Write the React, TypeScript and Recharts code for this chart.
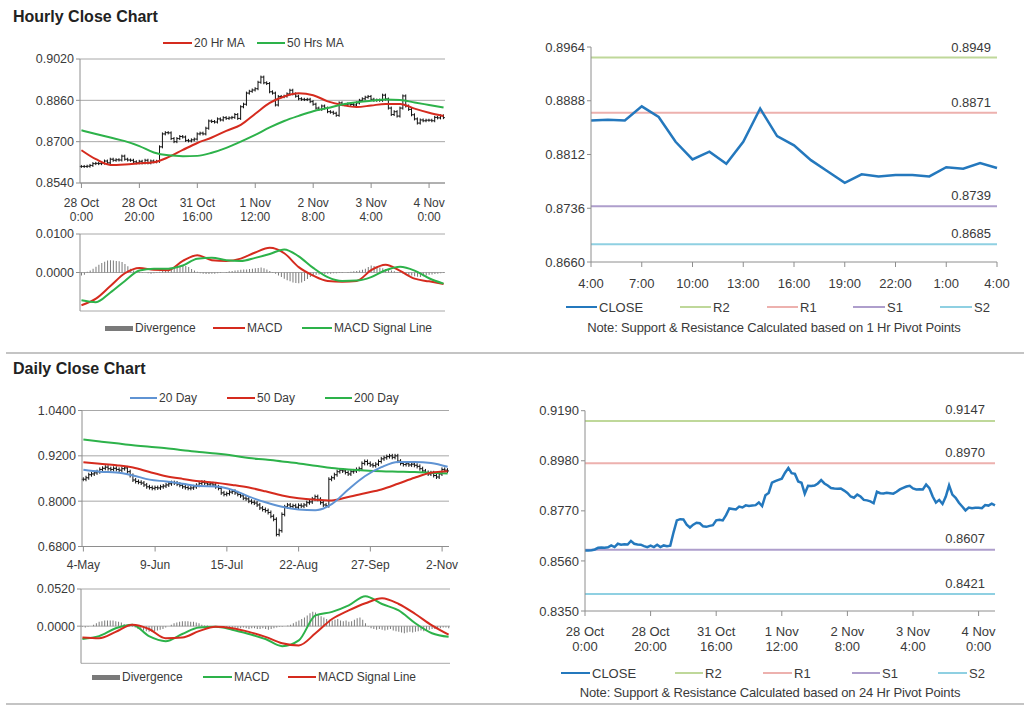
import React from 'react';
import { ComposedChart, LineChart, Line, Bar, XAxis, YAxis, CartesianGrid } from 'recharts';

const FONT = '"Liberation Sans", Arial, Helvetica, sans-serif';
const INK = '#3A3A3A';
const GRID = '#A8A8A8';
const AXIS = '#8E8E8E';
const RED = '#D52B1E';
const GREEN = '#2DB24A';
const BLUE20 = '#5F93D3';
const CLOSE_BLUE = '#2478BD';
const DIV_GRAY = '#7A7A7A';
const PIVOT_COLORS = ['#BFD89A', '#EDB1AE', '#AE9ECC', '#8FD0E2'];

// ---------- hourly data (one point per hour, 126 hours) ----------
const hourlyTickLabels = [
  ['28 Oct', '0:00'], ['28 Oct', '20:00'], ['31 Oct', '16:00'], ['1 Nov', '12:00'],
  ['2 Nov', '8:00'], ['3 Nov', '4:00'], ['4 Nov', '0:00'],
];

const hourlyClose = [
  0.8604, 0.8604, 0.8605, 0.8608, 0.8615, 0.8616, 0.8615, 0.8617, 0.8625, 0.8618,
  0.8632, 0.8628, 0.8630, 0.8629, 0.8644, 0.8632, 0.8629, 0.8628, 0.8622, 0.8618,
  0.8624, 0.8618, 0.8628, 0.8618, 0.8625, 0.8622, 0.8624, 0.8680, 0.8730, 0.8735,
  0.8734, 0.8712, 0.8700, 0.8712, 0.8720, 0.8718, 0.8705, 0.8703, 0.8707, 0.8710,
  0.8730, 0.8733, 0.8730, 0.8752, 0.8780, 0.8778, 0.8776, 0.8788, 0.8784, 0.8793,
  0.8790, 0.8792, 0.8794, 0.8805, 0.8790, 0.8835, 0.8845, 0.8888, 0.8895, 0.8900,
  0.8905, 0.8930, 0.8950, 0.8928, 0.8925, 0.8893, 0.8888, 0.8842, 0.8875, 0.8874,
  0.8876, 0.8885, 0.8899, 0.8885, 0.8876, 0.8866, 0.8864, 0.8863, 0.8864, 0.8855,
  0.8845, 0.8830, 0.8825, 0.8838, 0.8830, 0.8816, 0.8814, 0.8810, 0.8802, 0.8850,
  0.8844, 0.8843, 0.8846, 0.8844, 0.8842, 0.8850, 0.8860, 0.8866, 0.8872, 0.8875,
  0.8864,
  0.8860, 0.8861, 0.8860, 0.8880, 0.8865, 0.8830, 0.8805, 0.8816, 0.8799, 0.8830,
  0.8877, 0.8838, 0.8825, 0.8804, 0.8788, 0.8772, 0.8784, 0.8781, 0.8783, 0.8783,
  0.8781, 0.8794, 0.8792, 0.8800, 0.8793,
];

// moving averages and MACD read every 5 hours
const HOURLY_STEP = 5;
const hourlyMa20 = [
  0.8667, 0.8632, 0.8610, 0.8612, 0.8616, 0.8620, 0.8640, 0.8668, 0.8695, 0.8716,
  0.8742, 0.8765, 0.8808, 0.8850, 0.8875, 0.8887, 0.8880, 0.8856, 0.8842, 0.8834,
  0.8840, 0.8846, 0.8846, 0.8828, 0.8812, 0.8799,
];
const hourlyMa50 = [
  0.8744, 0.8730, 0.8716, 0.8702, 0.8683, 0.8658, 0.8647, 0.8644, 0.8645, 0.8657,
  0.8676, 0.8700, 0.8726, 0.8755, 0.8780, 0.8800, 0.8818, 0.8830, 0.8844, 0.8853,
  0.8858, 0.8863, 0.8861, 0.8852, 0.8842, 0.8832,
];
const hourlyMacd = [
  -0.0085, -0.0068, -0.0035, -0.0002, 0.0012, 0.0007, 0.0006, 0.0030, 0.0045, 0.0032,
  0.0030, 0.0036, 0.0052, 0.0064, 0.0050, 0.0014, -0.0008, -0.0022, -0.0024, -0.0022,
  0.0006, 0.0020, 0.0004, -0.0016, -0.0023, -0.0030,
];
const hourlySignal = [
  -0.0072, -0.0077, -0.0052, -0.0022, 0.0005, 0.0010, 0.0010, 0.0018, 0.0036, 0.0038,
  0.0032, 0.0030, 0.0038, 0.0048, 0.0060, 0.0042, 0.0012, -0.0012, -0.0022, -0.0021,
  -0.0012, 0.0006, 0.0015, 0.0005, -0.0015, -0.0029,
];
const hourlyDivergence = [
  -0.0008, -0.0006, 0.0002, 0.0005, 0.0010,
  0.0015, 0.0020, 0.0025, 0.0028, 0.0031, 0.0032, 0.0031, 0.0030, 0.0029, 0.0027,
  0.0022, 0.0016, 0.0010, 0.0005, 0.0003, 0.0002,
  0.0001, 0.0000, -0.0002, -0.0003, -0.0002, 0.0001, 0.0002, 0.0004,
  0.0005, 0.0007, 0.0010, 0.0012, 0.0014, 0.0016, 0.0018, 0.0017, 0.0014,
  0.0009, 0.0005, 0.0002,
  -0.0002, -0.0003, -0.0004, -0.0004, -0.0003, -0.0003, -0.0002, -0.0001, 0.0000, 0.0001,
  0.0003, 0.0004, 0.0005, 0.0006, 0.0007, 0.0008, 0.0008, 0.0009, 0.0010, 0.0011,
  0.0012, 0.0013, 0.0011, 0.0008,
  0.0004, 0.0001, -0.0003, -0.0008,
  -0.0012, -0.0016, -0.0020, -0.0023, -0.0026, -0.0027, -0.0028, -0.0026, -0.0022, -0.0017,
  -0.0012, -0.0008,
  -0.0006, -0.0005, -0.0004, -0.0004, -0.0003, -0.0003, -0.0002, -0.0002, -0.0001, -0.0001,
  0.0000, 0.0001, 0.0002, 0.0003, 0.0004, 0.0005, 0.0007,
  0.0010, 0.0014, 0.0018, 0.0017, 0.0015, 0.0013, 0.0011, 0.0009, 0.0007,
  0.0005, 0.0003, 0.0001, -0.0001, -0.0003, -0.0005,
  -0.0007, -0.0008, -0.0010, -0.0011, -0.0012, -0.0010, -0.0008, -0.0006, -0.0005,
  -0.0004, -0.0003, -0.0002, -0.0001,
];

// ---------- pivot levels ----------
const pivotNames = ['R2', 'R1', 'S1', 'S2'];
const hourlyPivotLevels = [0.8949, 0.8871, 0.8739, 0.8685];
const dailyPivotLevels = [0.9147, 0.8970, 0.8607, 0.8421];
const pivotHours = [
  '4:00', '5:00', '6:00', '7:00', '8:00', '9:00', '10:00', '11:00', '12:00', '13:00',
  '14:00', '15:00', '16:00', '17:00', '18:00', '19:00', '20:00', '21:00', '22:00', '23:00',
  '0:00', '1:00', '2:00', '3:00', '4:00',
];
const pivotClose = hourlyClose.slice(hourlyClose.length - pivotHours.length);

// ---------- daily data (133 sessions) ----------
const dailyTickLabels = ['4-May', '9-Jun', '15-Jul', '22-Aug', '27-Sep', '2-Nov'];
const dailyClose = [
  0.858, 0.862, 0.870, 0.872, 0.875, 0.878, 0.884, 0.887, 0.890, 0.886,
  0.884, 0.887, 0.884, 0.882, 0.886, 0.888, 0.878, 0.868, 0.856, 0.852,
  0.850, 0.848, 0.843, 0.838, 0.836, 0.834, 0.836, 0.835, 0.838, 0.840,
  0.843, 0.846, 0.849, 0.848, 0.845, 0.842, 0.838, 0.836, 0.834, 0.835,
  0.838, 0.842, 0.847, 0.850, 0.848, 0.845, 0.846, 0.843, 0.838, 0.834,
  0.822, 0.818, 0.820, 0.824, 0.826, 0.822, 0.818, 0.814, 0.808, 0.806,
  0.800, 0.797, 0.795, 0.790, 0.782, 0.778, 0.775, 0.770, 0.760, 0.752,
  0.712, 0.722, 0.765, 0.785, 0.790, 0.786, 0.788, 0.784, 0.789, 0.787,
  0.790, 0.796, 0.798, 0.806, 0.812, 0.805, 0.796, 0.790, 0.788, 0.858,
  0.862, 0.870, 0.878, 0.882, 0.880, 0.876, 0.872, 0.878, 0.880, 0.884,
  0.886, 0.900, 0.905, 0.900, 0.896, 0.894, 0.898, 0.905, 0.912, 0.915,
  0.918, 0.920, 0.916, 0.920, 0.906, 0.900, 0.897, 0.899, 0.896, 0.898,
  0.895, 0.892, 0.886, 0.880, 0.876, 0.872, 0.875, 0.868, 0.864, 0.872,
  0.884, 0.882, 0.880,
];

// averages and MACD read every 6 sessions
const DAILY_STEP = 6;
const dailyMa20 = [
  0.883, 0.878, 0.876, 0.868, 0.857, 0.852, 0.846, 0.840, 0.839, 0.830,
  0.812, 0.797, 0.785, 0.778, 0.776, 0.792, 0.831, 0.866, 0.890, 0.904,
  0.904, 0.901, 0.891,
];
const dailyMa50 = [
  0.903, 0.899, 0.895, 0.889, 0.877, 0.866, 0.859, 0.853, 0.849, 0.843,
  0.836, 0.826, 0.815, 0.808, 0.804, 0.802, 0.811, 0.821, 0.831, 0.846,
  0.862, 0.875, 0.879,
];
const dailyMa200 = [
  0.963, 0.958, 0.953, 0.948, 0.944, 0.940, 0.935, 0.930, 0.926, 0.921,
  0.914, 0.910, 0.905, 0.900, 0.894, 0.888, 0.884, 0.881, 0.879, 0.878,
  0.877, 0.875, 0.873,
];
const dailyMacd = [
  -0.018, -0.014, -0.003, 0.002, -0.014, -0.021, -0.011, -0.002, -0.001, -0.005,
  -0.011, -0.018, -0.028, -0.020, 0.015, 0.020, 0.029, 0.042, 0.031, 0.022,
  0.004, -0.010, -0.015,
];
const dailySignal = [
  -0.016, -0.017, -0.008, 0.002, -0.004, -0.017, -0.016, -0.007, -0.001, -0.003,
  -0.008, -0.015, -0.024, -0.027, -0.010, 0.010, 0.022, 0.032, 0.039, 0.031,
  0.017, 0.001, -0.012,
];
const dailyDivergence = [
  -0.001, -0.002, -0.001, 0.000,
  0.002, 0.004, 0.006, 0.007, 0.008, 0.008, 0.008, 0.008, 0.007, 0.006, 0.005, 0.003, 0.002,
  0.001, -0.001, -0.002,
  -0.004, -0.005, -0.006, -0.007, -0.008, -0.008, -0.007, -0.006, -0.005, -0.004, -0.002,
  0.000, 0.002,
  0.004, 0.005, 0.006, 0.007, 0.007, 0.007, 0.006, 0.006, 0.005, 0.004, 0.002,
  0.001, 0.001, 0.000, 0.000, -0.001, 0.000, -0.001, -0.001, -0.002,
  -0.002, -0.003, -0.002, -0.003, -0.003, -0.002, -0.003, -0.004, -0.003, -0.003, -0.004,
  -0.004, -0.003, -0.004, -0.005, -0.004, -0.003, -0.002, -0.001, -0.001, 0.000, 0.001,
  0.002, 0.004, 0.006, 0.008, 0.010, 0.012, 0.015, 0.018, 0.020, 0.019,
  0.016, 0.014, 0.012,
  0.010, 0.009, 0.008, 0.009, 0.010, 0.008, 0.007, 0.008, 0.006, 0.007, 0.009, 0.011, 0.012,
  0.009, 0.004,
  -0.001, -0.003, -0.004, -0.005, -0.004, -0.005, -0.006, -0.005, -0.004, -0.006, -0.007,
  -0.008, -0.009, -0.010, -0.009, -0.008, -0.009, -0.008, -0.007, -0.006, -0.007, -0.006,
  -0.005, -0.004, -0.004, -0.003,
  -0.003, -0.002, -0.002, -0.003,
];

// ---------- tables ----------
const sparse = (arr: number[], i: number, step: number) => (i % step === 0 ? arr[i / step] : undefined);

const hourlyRows = hourlyClose.map((close, i) => {
  const open = i > 0 ? hourlyClose[i - 1] : close;
  return {
    i,
    open,
    close,
    range: [Math.min(open, close), Math.max(open, close)],
    ma20: sparse(hourlyMa20, i, HOURLY_STEP),
    ma50: sparse(hourlyMa50, i, HOURLY_STEP),
    macd: sparse(hourlyMacd, i, HOURLY_STEP),
    signal: sparse(hourlySignal, i, HOURLY_STEP),
    div: hourlyDivergence[i],
    R2: dailyPivotLevels[0],
    R1: dailyPivotLevels[1],
    S1: dailyPivotLevels[2],
    S2: dailyPivotLevels[3],
  };
});

const hourPivotRows = pivotClose.map((close, k) => ({
  k,
  close,
  R2: hourlyPivotLevels[0],
  R1: hourlyPivotLevels[1],
  S1: hourlyPivotLevels[2],
  S2: hourlyPivotLevels[3],
}));

const dailyRows = dailyClose.map((close, i) => {
  const open = i > 0 ? dailyClose[i - 1] : close;
  return {
    i,
    open,
    close,
    range: [Math.min(open, close), Math.max(open, close)],
    ma20: sparse(dailyMa20, i, DAILY_STEP),
    ma50: sparse(dailyMa50, i, DAILY_STEP),
    ma200: sparse(dailyMa200, i, DAILY_STEP),
    macd: sparse(dailyMacd, i, DAILY_STEP),
    signal: sparse(dailySignal, i, DAILY_STEP),
    div: dailyDivergence[i],
  };
});

// ---------- drawing helpers ----------
const f4 = (v: number) => v.toFixed(4);

const makeOhlc = (pad: number, tick: number) =>
  function Ohlc(props: any) {
    const { x, y, width, height, payload } = props;
    if (x == null || y == null || !payload) return <g />;
    const top = Math.min(y, y + height);
    const bottom = Math.max(y, y + height);
    const cx = x + width / 2;
    const up = payload.close >= payload.open;
    const openY = up ? bottom : top;
    const closeY = up ? top : bottom;
    return (
      <g stroke="#111" strokeWidth={1}>
        <line x1={cx} x2={cx} y1={top - pad} y2={bottom + pad} />
        <line x1={cx - tick} x2={cx} y1={openY} y2={openY} />
        <line x1={cx} x2={cx + tick} y1={closeY} y2={closeY} />
      </g>
    );
  };

const makeStackedTick = (labels: string[][], every: number, size: number) =>
  function StackedTick(props: any) {
    const { x, y, payload } = props;
    const pair = labels[Math.round(Number(payload.value) / every)];
    if (!pair) return <g />;
    return (
      <text x={x} y={y} textAnchor="middle" fill={INK} fontSize={size} fontFamily={FONT}>
        <tspan x={x} dy={size + 5}>{pair[0]}</tspan>
        <tspan x={x} dy={size + 2}>{pair[1]}</tspan>
      </text>
    );
  };

const makeSingleTick = (lookup: (v: number) => string | undefined, size: number, dy: number) =>
  function SingleTick(props: any) {
    const { x, y, payload } = props;
    const label = lookup(Number(payload.value));
    if (label == null) return <g />;
    return (
      <text x={x} y={y + dy} textAnchor="middle" fill={INK} fontSize={size} fontFamily={FONT}>
        {label}
      </text>
    );
  };

const makePivotLabel = (text: string, last: number, dx: number, dy: number) =>
  function PivotLabel(props: any) {
    if (props.index !== last) return <g />;
    return (
      <text x={props.x - dx} y={props.y - dy} textAnchor="end" fill={INK} fontSize={13} fontFamily={FONT}>
        {text}
      </text>
    );
  };

type Key = { x: number; w: number; color: string; label: string; bar?: boolean };

function KeyRow({ y, items, size }: { y: number; items: Key[]; size: number }) {
  return (
    <>
      {items.map((k) => (
        <div
          key={k.label}
          style={{
            position: 'absolute', left: k.x, top: y - 8, height: 16, display: 'flex',
            alignItems: 'center', fontSize: size, whiteSpace: 'nowrap', color: INK,
          }}
        >
          <span style={{ display: 'inline-block', width: k.w, height: k.bar ? 5 : 2, background: k.color, marginRight: 2 }} />
          <span>{k.label}</span>
        </div>
      ))}
    </>
  );
}

const leftTick = { fill: INK, fontSize: 12.5, fontFamily: FONT };
const rightTick = { fill: INK, fontSize: 13, fontFamily: FONT };

const HourTick = makeStackedTick(hourlyTickLabels, 20, 12);
const HourTickRight = makeStackedTick(hourlyTickLabels, 20, 13);
const PivotHourTick = makeSingleTick((v) => pivotHours[v], 13, 19);
const DayTick = makeSingleTick((v) => (v % 26 === 0 ? dailyTickLabels[v / 26] : undefined), 12, 15);
const HourlyOhlc = makeOhlc(1.5, 1.5);
const DailyOhlc = makeOhlc(2, 1.5);

const titleStyle = (top: number): React.CSSProperties => ({
  position: 'absolute', left: 13, top, fontSize: 16, fontWeight: 'bold', color: '#222', lineHeight: '18px',
});

const noteStyle = (top: number, center: number): React.CSSProperties => ({
  position: 'absolute', left: center - 250, width: 500, top, textAlign: 'center', fontSize: 13,
  letterSpacing: -0.15, color: INK, lineHeight: '16px',
});

export default function App() {
  return (
    <div
      style={{
        position: 'absolute', left: 0, top: 0, width: 1024, height: 706, background: '#fff',
        fontFamily: FONT, color: INK, overflow: 'hidden',
      }}
    >
      <div style={titleStyle(8)}>Hourly Close Chart</div>

      {/* hourly price with moving averages */}
      <KeyRow
        y={43}
        size={12}
        items={[
          { x: 163, w: 29, color: RED, label: '20 Hr MA' },
          { x: 257, w: 28, color: GREEN, label: '50 Hrs MA' },
        ]}
      />
      <div style={{ position: 'absolute', left: 0, top: 40 }}>
        <ComposedChart width={460} height={190} data={hourlyRows} margin={{ top: 19, right: 15, bottom: 7, left: 0 }}>
          <CartesianGrid vertical={false} stroke={GRID} />
          <XAxis dataKey="i" interval={19} height={40} tickSize={5} stroke={AXIS} tick={HourTick} />
          <YAxis
            domain={[0.854, 0.902]}
            ticks={[0.854, 0.87, 0.886, 0.902]}
            width={80}
            tickSize={4}
            stroke={AXIS}
            tickFormatter={f4}
            tick={leftTick}
          />
          <Bar dataKey="range" barSize={3} shape={HourlyOhlc} isAnimationActive={false} />
          <Line dataKey="ma20" type="monotone" stroke={RED} strokeWidth={2} dot={false} connectNulls isAnimationActive={false} />
          <Line dataKey="ma50" type="monotone" stroke={GREEN} strokeWidth={2} dot={false} connectNulls isAnimationActive={false} />
        </ComposedChart>
      </div>

      {/* hourly MACD */}
      <div style={{ position: 'absolute', left: 0, top: 226 }}>
        <ComposedChart width={460} height={92} data={hourlyRows} margin={{ top: 8, right: 15, bottom: 7, left: 0 }}>
          <CartesianGrid vertical={false} stroke={GRID} />
          <XAxis dataKey="i" hide />
          <YAxis
            domain={[-0.01, 0.01]}
            ticks={[-0.01, 0, 0.01]}
            width={80}
            tickSize={4}
            stroke={AXIS}
            tickFormatter={f4}
            tick={leftTick}
          />
          <Bar dataKey="div" fill={DIV_GRAY} barSize={1} isAnimationActive={false} />
          <Line dataKey="macd" type="monotone" stroke={RED} strokeWidth={2} dot={false} connectNulls isAnimationActive={false} />
          <Line dataKey="signal" type="monotone" stroke={GREEN} strokeWidth={2} dot={false} connectNulls isAnimationActive={false} />
        </ComposedChart>
      </div>
      <KeyRow
        y={328}
        size={12}
        items={[
          { x: 105, w: 28, color: DIV_GRAY, label: 'Divergence', bar: true },
          { x: 213, w: 32, color: RED, label: 'MACD' },
          { x: 302, w: 30, color: GREEN, label: 'MACD Signal Line' },
        ]}
      />

      {/* hourly pivot chart */}
      <div style={{ position: 'absolute', left: 500, top: 30 }}>
        <LineChart width={510} height={270} data={hourPivotRows} margin={{ top: 17, right: 13, bottom: 8, left: 0 }}>
          <XAxis dataKey="k" interval={2} height={30} tickSize={5} stroke={AXIS} tick={PivotHourTick} />
          <YAxis
            domain={[0.866, 0.8964]}
            ticks={[0.866, 0.8736, 0.8812, 0.8888, 0.8964]}
            width={91}
            tickSize={4}
            stroke={AXIS}
            tickFormatter={f4}
            tick={rightTick}
          />
          {pivotNames.map((name, p) => (
            <Line
              key={name}
              dataKey={name}
              stroke={PIVOT_COLORS[p]}
              strokeWidth={2}
              dot={false}
              isAnimationActive={false}
              label={makePivotLabel(f4(hourlyPivotLevels[p]), pivotClose.length - 1, 6, 6)}
            />
          ))}
          <Line dataKey="close" type="linear" stroke={CLOSE_BLUE} strokeWidth={2.5} dot={false} isAnimationActive={false} />
        </LineChart>
      </div>
      <KeyRow
        y={307}
        size={13}
        items={[
          { x: 566, w: 31, color: CLOSE_BLUE, label: 'CLOSE' },
          { x: 680, w: 31, color: PIVOT_COLORS[0], label: 'R2' },
          { x: 767, w: 31, color: PIVOT_COLORS[1], label: 'R1' },
          { x: 853, w: 32, color: PIVOT_COLORS[2], label: 'S1' },
          { x: 940, w: 32, color: PIVOT_COLORS[3], label: 'S2' },
        ]}
      />
      <div style={noteStyle(320, 774)}>Note: Support &amp; Resistance Calculated based on 1 Hr Pivot Points</div>

      <div style={{ position: 'absolute', left: 6, top: 352, width: 1018, height: 2, background: '#C4C4C4' }} />
      <div style={titleStyle(360)}>Daily Close Chart</div>

      {/* daily price with moving averages */}
      <KeyRow
        y={398}
        size={12}
        items={[
          { x: 130, w: 27, color: BLUE20, label: '20 Day' },
          { x: 227, w: 28, color: RED, label: '50 Day' },
          { x: 325, w: 27, color: GREEN, label: '200 Day' },
        ]}
      />
      <div style={{ position: 'absolute', left: 0, top: 400 }}>
        <ComposedChart width={460} height={176} data={dailyRows} margin={{ top: 10.5, right: 11, bottom: 3.5, left: 0 }}>
          <CartesianGrid vertical={false} stroke={GRID} />
          <XAxis dataKey="i" interval={25} height={26} tickSize={5} stroke={AXIS} tick={DayTick} />
          <YAxis
            domain={[0.68, 1.04]}
            ticks={[0.68, 0.8, 0.92, 1.04]}
            width={82}
            tickSize={4}
            stroke={AXIS}
            tickFormatter={f4}
            tick={leftTick}
          />
          <Bar dataKey="range" barSize={3} shape={DailyOhlc} isAnimationActive={false} />
          <Line dataKey="ma200" type="monotone" stroke={GREEN} strokeWidth={2} dot={false} connectNulls isAnimationActive={false} />
          <Line dataKey="ma50" type="monotone" stroke={RED} strokeWidth={2} dot={false} connectNulls isAnimationActive={false} />
          <Line dataKey="ma20" type="monotone" stroke={BLUE20} strokeWidth={2} dot={false} connectNulls isAnimationActive={false} />
        </ComposedChart>
      </div>

      {/* daily MACD */}
      <div style={{ position: 'absolute', left: 0, top: 580 }}>
        <ComposedChart width={460} height={90} data={dailyRows} margin={{ top: 9, right: 10, bottom: 6.7, left: 0 }}>
          <CartesianGrid vertical={false} stroke={GRID} />
          <XAxis dataKey="i" hide />
          <YAxis
            domain={[-0.052, 0.052]}
            ticks={[-0.052, 0, 0.052]}
            width={81}
            tickSize={4}
            stroke={AXIS}
            tickFormatter={f4}
            tick={leftTick}
          />
          <Bar dataKey="div" fill={DIV_GRAY} barSize={1} isAnimationActive={false} />
          <Line dataKey="macd" type="monotone" stroke={GREEN} strokeWidth={2} dot={false} connectNulls isAnimationActive={false} />
          <Line dataKey="signal" type="monotone" stroke={RED} strokeWidth={2} dot={false} connectNulls isAnimationActive={false} />
        </ComposedChart>
      </div>
      <KeyRow
        y={677}
        size={12}
        items={[
          { x: 92, w: 28, color: DIV_GRAY, label: 'Divergence', bar: true },
          { x: 203, w: 29, color: GREEN, label: 'MACD' },
          { x: 288, w: 28, color: RED, label: 'MACD Signal Line' },
        ]}
      />

      {/* daily pivot chart on hourly closes */}
      <div style={{ position: 'absolute', left: 500, top: 395 }}>
        <LineChart width={510} height={265} data={hourlyRows} margin={{ top: 15.7, right: 15, bottom: 9, left: 0 }}>
          <XAxis dataKey="i" interval={19} height={40} tickSize={5} stroke={AXIS} tick={HourTickRight} />
          <YAxis
            domain={[0.835, 0.919]}
            ticks={[0.835, 0.856, 0.877, 0.898, 0.919]}
            width={85}
            tickSize={4}
            stroke={AXIS}
            tickFormatter={f4}
            tick={rightTick}
          />
          {pivotNames.map((name, p) => (
            <Line
              key={name}
              dataKey={name}
              stroke={PIVOT_COLORS[p]}
              strokeWidth={2}
              dot={false}
              isAnimationActive={false}
              label={makePivotLabel(f4(dailyPivotLevels[p]), hourlyClose.length - 1, 10, 6.5)}
            />
          ))}
          <Line dataKey="close" type="linear" stroke={CLOSE_BLUE} strokeWidth={2.5} dot={false} isAnimationActive={false} />
        </LineChart>
      </div>
      <KeyRow
        y={673}
        size={13}
        items={[
          { x: 561, w: 29, color: CLOSE_BLUE, label: 'CLOSE' },
          { x: 675, w: 28, color: PIVOT_COLORS[0], label: 'R2' },
          { x: 763, w: 29, color: PIVOT_COLORS[1], label: 'R1' },
          { x: 852, w: 28, color: PIVOT_COLORS[2], label: 'S1' },
          { x: 938, w: 29, color: PIVOT_COLORS[3], label: 'S2' },
        ]}
      />
      <div style={noteStyle(685, 770)}>Note: Support &amp; Resistance Calculated based on 24 Hr Pivot Points</div>

      <div style={{ position: 'absolute', left: 6, top: 703, width: 1018, height: 2, background: '#C4C4C4' }} />
    </div>
  );
}
